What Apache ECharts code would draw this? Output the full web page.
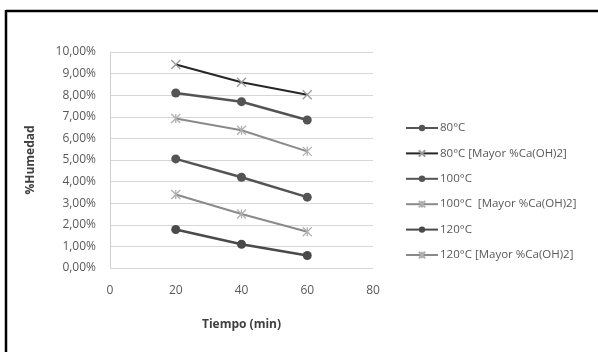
<!DOCTYPE html>
<html>
<head>
<meta charset="utf-8">
<script src="https://cdn.jsdelivr.net/npm/echarts@6/dist/echarts.min.js"></script>
<style>
  html, body { margin: 0; padding: 0; background: #fff; }
  #chart { width: 598px; height: 352px; }
</style>
</head>
<body>
<div id="chart"></div>
<script>
// Tiempo (min) on x, %Humedad on y
const tiempos = [20, 40, 60];
const serieNames = [
  '80°C',
  '80°C [Mayor %Ca(OH)2]',
  '100°C',
  '100°C  [Mayor %Ca(OH)2]',
  '120°C',
  '120°C [Mayor %Ca(OH)2]'
];
const h80 = [8.1, 7.7, 6.85];
const h80Mayor = [9.42, 8.6, 8.02];
const h100 = [5.05, 4.2, 3.28];
const h100Mayor = [6.92, 6.38, 5.4];
const h120 = [1.78, 1.1, 0.58];
const h120Mayor = [3.4, 2.5, 1.68];

const crossPath = 'path://M0,0L10,10M10,0L0,10';
const starPath = 'path://M0,0L10,10M10,0L0,10M5,0L5,10';

function pts(vals) {
  return tiempos.map((t, i) => [t, vals[i]]);
}

function dotSerie(name, vals, color) {
  return {
    name: name, type: 'line', data: pts(vals),
    symbol: 'circle', symbolSize: 9,
    lineStyle: { color: color, width: 2.5 },
    itemStyle: { color: color },
    z: 3
  };
}

function crossSerie(name, vals, color, markColor, sym) {
  return {
    name: name, type: 'line', data: pts(vals),
    symbol: sym, symbolSize: 9,
    lineStyle: { color: color, width: 2 },
    itemStyle: { color: 'none', borderColor: markColor, borderWidth: 1.3 },
    z: 2
  };
}

const chart = echarts.init(document.getElementById('chart'));
chart.setOption({
  animation: false,
  backgroundColor: '#fff',
  textStyle: { fontFamily: 'Open Sans' },
  graphic: [
    { type: 'line', shape: { x1: 6, y1: 11, x2: 598, y2: 11 }, style: { stroke: '#000', lineWidth: 2.5 } },
    { type: 'line', shape: { x1: 6, y1: 10, x2: 6, y2: 352 }, style: { stroke: '#000', lineWidth: 2.5 } }
  ],
  grid: { left: 110, right: 225, top: 52, bottom: 84 },
  legend: {
    orient: 'vertical', left: 405, top: 122, padding: 0,
    itemWidth: 32, itemHeight: 8, itemGap: 13.4,
    textStyle: { fontSize: 11.5, color: '#595959', fontFamily: 'Open Sans', padding: [0, 0, 0, -3] },
    data: serieNames
  },
  xAxis: {
    type: 'value', min: 0, max: 80, interval: 20,
    name: 'Tiempo (min)', nameLocation: 'middle', nameGap: 51,
    nameTextStyle: { fontSize: 12, fontWeight: 'bold', color: '#404040' },
    axisLine: { show: false },
    axisTick: { show: false },
    axisLabel: { fontSize: 12, color: '#595959', margin: 17 },
    splitLine: { show: false }
  },
  yAxis: {
    type: 'value', min: 0, max: 10, interval: 1,
    name: '%Humedad', nameLocation: 'middle', nameGap: 73,
    nameTextStyle: { fontSize: 12, fontWeight: 'bold', color: '#404040' },
    axisLine: { show: true, lineStyle: { color: '#d0d0d0' } },
    axisTick: { show: false },
    axisLabel: {
      fontSize: 12, color: '#595959', margin: 14,
      formatter: v => v.toFixed(2).replace('.', ',') + '%'
    },
    splitLine: { lineStyle: { color: '#d6d6d6', width: 1.2 } }
  },
  series: [
    dotSerie(serieNames[0], h80, '#545454'),
    crossSerie(serieNames[1], h80Mayor, '#262626', '#9a9a9a', crossPath),
    dotSerie(serieNames[2], h100, '#545454'),
    crossSerie(serieNames[3], h100Mayor, '#8a8a8a', '#b0b0b0', starPath),
    dotSerie(serieNames[4], h120, '#4a4a4a'),
    crossSerie(serieNames[5], h120Mayor, '#8a8a8a', '#b0b0b0', starPath)
  ]
});
</script>
</body>
</html>
